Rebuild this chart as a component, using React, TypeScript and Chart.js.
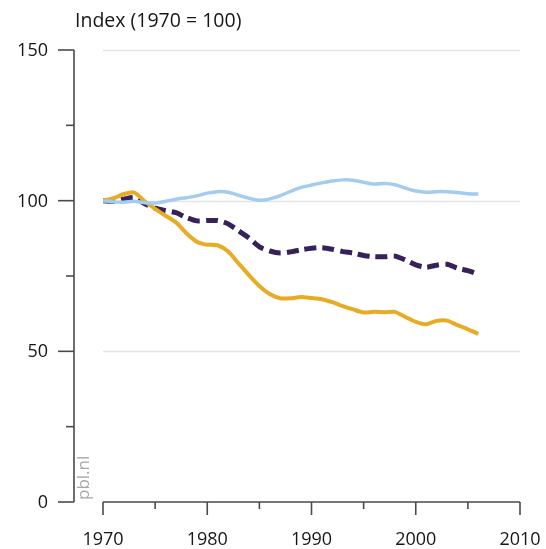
import { useEffect, useRef } from "react";
import { Chart, registerables } from "chart.js";

Chart.register(...registerables);

const years = [
  1970, 1971, 1972, 1973, 1974, 1975, 1976, 1977, 1978, 1979,
  1980, 1981, 1982, 1983, 1984, 1985, 1986, 1987, 1988, 1989,
  1990, 1991, 1992, 1993, 1994, 1995, 1996, 1997, 1998, 1999,
  2000, 2001, 2002, 2003, 2004, 2005, 2006,
];

const blueSeries = [
  100.0, 99.6, 99.5, 99.8, 99.3, 99.2, 99.8, 100.5, 101.0, 101.6,
  102.5, 103.0, 102.8, 101.8, 100.8, 100.1, 100.6, 101.7, 103.1, 104.4,
  105.2, 105.9, 106.5, 106.9, 106.8, 106.1, 105.5, 105.7, 105.3, 104.2,
  103.2, 102.8, 103.0, 103.0, 102.7, 102.3, 102.2,
];

const orangeSeries = [
  100.0, 100.8, 102.2, 102.7, 99.8, 97.3, 95.0, 92.8, 89.2, 86.4,
  85.4, 85.2, 83.1, 79.2, 75.3, 71.7, 69.0, 67.6, 67.6, 68.0,
  67.7, 67.3, 66.3, 65.0, 63.9, 62.9, 63.1, 63.0, 63.1, 61.4,
  59.8, 59.0, 60.1, 60.2, 58.7, 57.3, 55.8,
];

const dashedSeries = [
  100.0, 99.8, 100.5, 101.0, 99.0, 97.5, 96.7, 96.0, 94.4, 93.3,
  93.4, 93.4, 92.3, 90.0, 87.6, 84.7, 83.3, 82.6, 83.0, 83.7,
  84.2, 84.4, 83.9, 83.1, 82.6, 81.8, 81.4, 81.4, 81.6, 80.3,
  78.7, 77.9, 78.6, 78.9, 77.6, 76.8, 75.6,
];

const yTickLabels = [0, 50, 100, 150];
const yMinorTicks = [25, 75, 125];
const yGridValues = [50, 100, 150];
const xTickLabels = [1970, 1980, 1990, 2000, 2010];
const xMinorTicks = [1975, 1985, 1995, 2005];
const titleText = "Index (1970 = 100)";
const watermarkText = "pbl.nl";

const FONT = "'Open Sans', 'Noto Sans', sans-serif";

const axesPlugin = {
  id: "pblAxes",
  beforeDatasetsDraw(chart: any) {
    const { ctx, chartArea, scales } = chart;
    const y = scales.y;
    ctx.save();
    ctx.strokeStyle = "#e4e4e4";
    ctx.lineWidth = 1.5;
    for (const v of yGridValues) {
      const py = Math.round(y.getPixelForValue(v)) + 0.5;
      ctx.beginPath();
      ctx.moveTo(chartArea.left, py);
      ctx.lineTo(chartArea.right, py);
      ctx.stroke();
    }
    ctx.restore();
  },
  afterDatasetsDraw(chart: any) {
    const { ctx, chartArea, scales } = chart;
    const x = scales.x;
    const y = scales.y;
    const axisX = chartArea.left - 29;
    const axisY = chartArea.bottom;
    ctx.save();
    ctx.strokeStyle = "#4a4a4a";
    ctx.lineWidth = 1.6;
    ctx.lineCap = "butt";

    // y axis line
    ctx.beginPath();
    ctx.moveTo(axisX, y.getPixelForValue(150));
    ctx.lineTo(axisX, y.getPixelForValue(0));
    ctx.stroke();
    for (const v of yTickLabels) {
      const py = y.getPixelForValue(v);
      ctx.beginPath();
      ctx.moveTo(axisX - 16, py);
      ctx.lineTo(axisX, py);
      ctx.stroke();
    }
    for (const v of yMinorTicks) {
      const py = y.getPixelForValue(v);
      ctx.beginPath();
      ctx.moveTo(axisX - 8, py);
      ctx.lineTo(axisX, py);
      ctx.stroke();
    }

    // x axis line
    ctx.beginPath();
    ctx.moveTo(x.getPixelForValue(1970), axisY);
    ctx.lineTo(x.getPixelForValue(2010), axisY);
    ctx.stroke();
    for (const v of xTickLabels) {
      const px = x.getPixelForValue(v);
      ctx.beginPath();
      ctx.moveTo(px, axisY);
      ctx.lineTo(px, axisY + 13);
      ctx.stroke();
    }
    for (const v of xMinorTicks) {
      const px = x.getPixelForValue(v);
      ctx.beginPath();
      ctx.moveTo(px, axisY);
      ctx.lineTo(px, axisY + 7);
      ctx.stroke();
    }

    // labels
    ctx.fillStyle = "#161616";
    ctx.font = `18px ${FONT}`;
    ctx.textAlign = "right";
    ctx.textBaseline = "middle";
    for (const v of yTickLabels) {
      ctx.fillText(String(v), axisX - 26, y.getPixelForValue(v) + 1);
    }
    ctx.textAlign = "center";
    for (const v of xTickLabels) {
      ctx.fillText(String(v), x.getPixelForValue(v), axisY + 38);
    }

    // title
    ctx.textAlign = "left";
    ctx.font = `19.5px ${FONT}`;
    ctx.fillText(titleText, axisX + 1, 21);

    // watermark
    ctx.fillStyle = "#a8a8a8";
    ctx.font = `17px ${FONT}`;
    ctx.translate(axisX + 15, axisY - 2);
    ctx.rotate(-Math.PI / 2);
    ctx.textAlign = "left";
    ctx.textBaseline = "alphabetic";
    ctx.fillText(watermarkText, 0, 0);
    ctx.restore();
  },
};

export default function App() {
  const canvasRef = useRef<HTMLCanvasElement | null>(null);

  useEffect(() => {
    const canvas = canvasRef.current;
    if (!canvas) return;
    const toPoints = (vals: number[]) => years.map((yr, i) => ({ x: yr, y: vals[i] }));
    const chart = new Chart(canvas, {
      type: "line",
      data: {
        datasets: [
          {
            data: toPoints(blueSeries),
            borderColor: "#a3ccef",
            borderWidth: 3.5,
            pointRadius: 0,
            tension: 0.25,
            fill: false,
          },
          {
            data: toPoints(orangeSeries),
            borderColor: "#e7ac26",
            borderWidth: 4,
            pointRadius: 0,
            tension: 0.25,
            fill: false,
          },
          {
            data: toPoints(dashedSeries),
            borderColor: "#362159",
            borderWidth: 5,
            borderDash: [12, 6],
            borderCapStyle: "butt",
            pointRadius: 0,
            tension: 0.25,
            fill: false,
          },
        ],
      },
      options: {
        responsive: false,
        animation: false,
        layout: { padding: { left: 103, right: 26, top: 50, bottom: 47 } },
        plugins: {
          legend: { display: false },
          tooltip: { enabled: false },
          title: { display: false },
        },
        scales: {
          x: { type: "linear", min: 1970, max: 2010, display: false },
          y: { type: "linear", min: 0, max: 150, display: false },
        },
      },
      plugins: [axesPlugin],
    });
    return () => chart.destroy();
  }, []);

  return (
    <div style={{ position: "absolute", left: 0, top: 0, width: 546, height: 549, background: "#fff" }}>
      <canvas ref={canvasRef} width={546} height={549} />
    </div>
  );
}
